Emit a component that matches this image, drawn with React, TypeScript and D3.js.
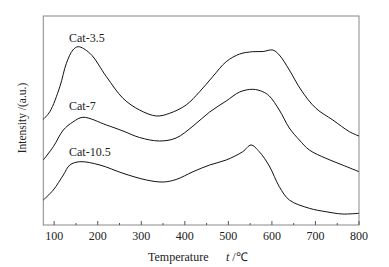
import React from "react";
import * as d3 from "d3";

const temps35 = [75, 90, 113, 128, 143, 155, 182, 220, 258, 296, 335, 365, 403, 434, 464, 495, 526, 556, 580, 602, 617, 640, 667, 701, 740, 778, 800];
const cat35 = [105.7, 113.3, 138.3, 161.7, 175, 178.3, 171.7, 148.3, 126.7, 115, 109, 111.7, 120, 133.3, 148.3, 163.3, 171, 173.3, 173.5, 175, 170, 155, 135, 116.7, 105, 93.3, 89];

const temps7 = [75, 98, 121, 143, 166, 220, 258, 296, 342, 380, 419, 457, 495, 526, 556, 579, 594, 617, 640, 663, 686, 724, 762, 800];
const cat7 = [65, 78.3, 95, 103, 107.7, 100, 94, 87.5, 84, 87, 99, 113, 124, 133, 135.7, 133.3, 129, 115, 97, 85, 75, 66.7, 60, 53.3];

const temps105 = [75, 98, 121, 136, 159, 205, 258, 312, 350, 380, 419, 457, 495, 533, 552, 571, 594, 617, 640, 686, 724, 762, 800];
const cat105 = [25, 35, 50, 60, 63.3, 60, 51.7, 45, 43, 45.5, 53.3, 60, 65, 73.3, 80, 73.3, 59, 38.3, 25, 16.7, 13.3, 11, 11.7];

const majorTicks = [100, 200, 300, 400, 500, 600, 700, 800];
const minorTicks = [150, 250, 350, 450, 550, 650, 750];

const seriesLabels = [
  { name: "Cat-3.5", t: 134, v: 183 },
  { name: "Cat-7", t: 134, v: 115 },
  { name: "Cat-10.5", t: 134, v: 69 },
];

export default function App() {
  const L = 43.3, R = 359, T = 16, B = 225;
  const x = d3.scaleLinear().domain([75, 800]).range([L, R]);
  const y = d3.scaleLinear().domain([0, 209]).range([B, T]);
  const line = d3
    .line<[number, number]>()
    .x((d) => x(d[0]))
    .y((d) => y(d[1]))
    .curve(d3.curveCatmullRom.alpha(0.5));
  const series = [
    { t: temps35, v: cat35 },
    { t: temps7, v: cat7 },
    { t: temps105, v: cat105 },
  ];
  const font = "'Liberation Serif', 'Times New Roman', serif";
  return (
    <div style={{ position: "fixed", left: 0, top: 0 }}>
      <svg width={389} height={267} style={{ display: "block", background: "#fff" }}>
        <rect x={L} y={T} width={R - L} height={B - T} fill="none" stroke="#888" strokeWidth={1} />
        {majorTicks.map((t) => (
          <line key={"M" + t} x1={x(t)} x2={x(t)} y1={B} y2={B - 4} stroke="#555" strokeWidth={1} />
        ))}
        {minorTicks.map((t) => (
          <line key={"m" + t} x1={x(t)} x2={x(t)} y1={B} y2={B - 2} stroke="#555" strokeWidth={1} />
        ))}
        {majorTicks.map((t) => (
          <text key={"l" + t} x={x(t)} y={240} textAnchor="middle" fontFamily={font} fontSize={12} fill="#222">
            {t}
          </text>
        ))}
        {series.map((s, i) => (
          <path
            key={i}
            d={line(s.t.map((t, j) => [t, s.v[j]] as [number, number])) || ""}
            fill="none"
            stroke="#111"
            strokeWidth={1}
          />
        ))}
        {seriesLabels.map((s) => (
          <text key={s.name} x={x(s.t)} y={y(s.v)} fontFamily={font} fontSize={12} fill="#222">
            {s.name}
          </text>
        ))}
        <text x={148} y={261} fontFamily={font} fontSize={12} fill="#222">
          Temperature
        </text>
        <text x={226} y={261} fontFamily={font} fontSize={12} fill="#222">
          <tspan fontStyle="italic">t</tspan>
          <tspan> /℃</tspan>
        </text>
        <text
          transform={`translate(26,118) rotate(-90)`}
          textAnchor="middle"
          fontFamily={font}
          fontSize={11.5}
          fill="#222"
        >
          Intensity /(a.u.)
        </text>
      </svg>
    </div>
  );
}
